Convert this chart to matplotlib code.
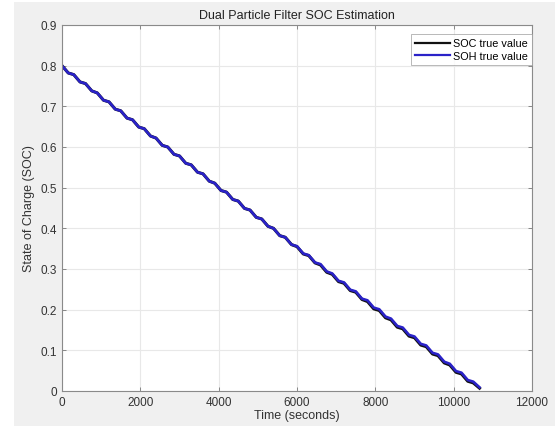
import numpy as np
import matplotlib
matplotlib.use("Agg")
from matplotlib import pyplot as plt
from matplotlib.patches import Rectangle

plt.rcParams['font.family'] = ['Liberation Sans', 'DejaVu Sans']

# start time of each discharge pulse (s)
cycle_t = [0, 300, 600, 900, 1200, 1500, 1800, 2100, 2400, 2700, 3000, 3300,
           3600, 3900, 4200, 4500, 4800, 5100, 5400, 5700, 6000, 6300, 6600, 6900,
           7200, 7500, 7800, 8100, 8400, 8700, 9000, 9300, 9600, 9900, 10200, 10500]
# SOH trace at start of each pulse
soh_start = [0.800, 0.778, 0.756, 0.733, 0.711, 0.689, 0.667, 0.645, 0.622, 0.600,
             0.578, 0.556, 0.534, 0.511, 0.489, 0.467, 0.445, 0.423, 0.400, 0.378,
             0.356, 0.334, 0.312, 0.289, 0.267, 0.245, 0.223, 0.201, 0.178, 0.156,
             0.134, 0.112, 0.090, 0.067, 0.045, 0.023]
# SOH trace after the steep part of each pulse
soh_knee = [0.782, 0.760, 0.738, 0.715, 0.693, 0.671, 0.649, 0.627, 0.604, 0.582,
            0.560, 0.538, 0.516, 0.493, 0.471, 0.449, 0.427, 0.405, 0.382, 0.360,
            0.338, 0.316, 0.294, 0.271, 0.249, 0.227, 0.205, 0.183, 0.160, 0.138,
            0.116, 0.094, 0.072, 0.049, 0.027, 0.009]
# SOC trace (almost identical, slightly lower toward the end)
soc_start = [0.800, 0.778, 0.756, 0.733, 0.711, 0.689, 0.667, 0.645, 0.622, 0.600,
             0.578, 0.556, 0.534, 0.511, 0.489, 0.467, 0.445, 0.423, 0.400, 0.378,
             0.355, 0.333, 0.310, 0.287, 0.265, 0.243, 0.220, 0.198, 0.175, 0.153,
             0.131, 0.109, 0.087, 0.064, 0.042, 0.020]
soc_knee = [0.782, 0.760, 0.738, 0.715, 0.693, 0.671, 0.649, 0.627, 0.604, 0.582,
            0.560, 0.538, 0.516, 0.493, 0.471, 0.449, 0.427, 0.405, 0.382, 0.360,
            0.337, 0.315, 0.292, 0.269, 0.247, 0.225, 0.202, 0.180, 0.157, 0.135,
            0.113, 0.091, 0.069, 0.046, 0.024, 0.007]
knee_dt = 160

xticks = [0, 2000, 4000, 6000, 8000, 10000, 12000]
yticks = [0, 0.1, 0.2, 0.3, 0.4, 0.5, 0.6, 0.7, 0.8, 0.9]


def trace(starts, knees):
    t, s = [], []
    for i in range(len(cycle_t)):
        t += [cycle_t[i], cycle_t[i] + knee_dt]
        s += [starts[i], knees[i]]
    return np.array(t), np.array(s)


fig = plt.figure(figsize=(5.55, 4.27), dpi=100, facecolor='white')
fig.patches.append(Rectangle((14 / 555, 0), 1, 424 / 427, transform=fig.transFigure,
                             facecolor='#f0f0f0', edgecolor='none', zorder=-10))
ax = fig.add_axes([62 / 555, 1 - 392 / 427, 470 / 555, 366 / 427])
ax.set_facecolor('white')

t1, s1 = trace(soc_start, soc_knee)
t2, s2 = trace(soh_start, soh_knee)
ax.plot(t1, s1, color='#111111', lw=2.2, label='SOC true value')
ax.plot(t2, s2, color='#2a22c8', lw=1.9, label='SOH true value')

ax.set_xlim(0, 12000)
ax.set_ylim(0, 0.9)
ax.set_xticks(xticks)
ax.set_yticks(yticks)
ax.set_yticklabels(['0', '0.1', '0.2', '0.3', '0.4', '0.5', '0.6', '0.7', '0.8', '0.9'])
ax.grid(True, color='#e8e8e8', lw=0.8)
ax.set_axisbelow(True)
ax.tick_params(direction='in', top=True, right=True, length=3, width=0.6,
               colors='#777777', labelcolor='#333333', labelsize=8.5)
for sp in ax.spines.values():
    sp.set_color('#8a8a8a')
    sp.set_linewidth(0.8)

ax.set_title('Dual Particle Filter SOC Estimation', fontsize=9, color='#222222', pad=5)
ax.set_xlabel('Time (seconds)', fontsize=9, color='#333333', labelpad=1)
ax.set_ylabel('State of Charge (SOC)', fontsize=9, color='#333333', labelpad=4)

leg = ax.legend(loc='upper right', bbox_to_anchor=(1, 1 - 9 / 366), fontsize=7.8,
                frameon=True, fancybox=False, handlelength=3.2, borderpad=0.4,
                labelspacing=0.2, handletextpad=0.3, borderaxespad=0)
leg.get_frame().set_edgecolor('#999999')
leg.get_frame().set_linewidth(0.6)
for ln in leg.get_lines():
    ln.set_linewidth(1.6)

fig.savefig('out.png', dpi=100, facecolor=fig.get_facecolor())
